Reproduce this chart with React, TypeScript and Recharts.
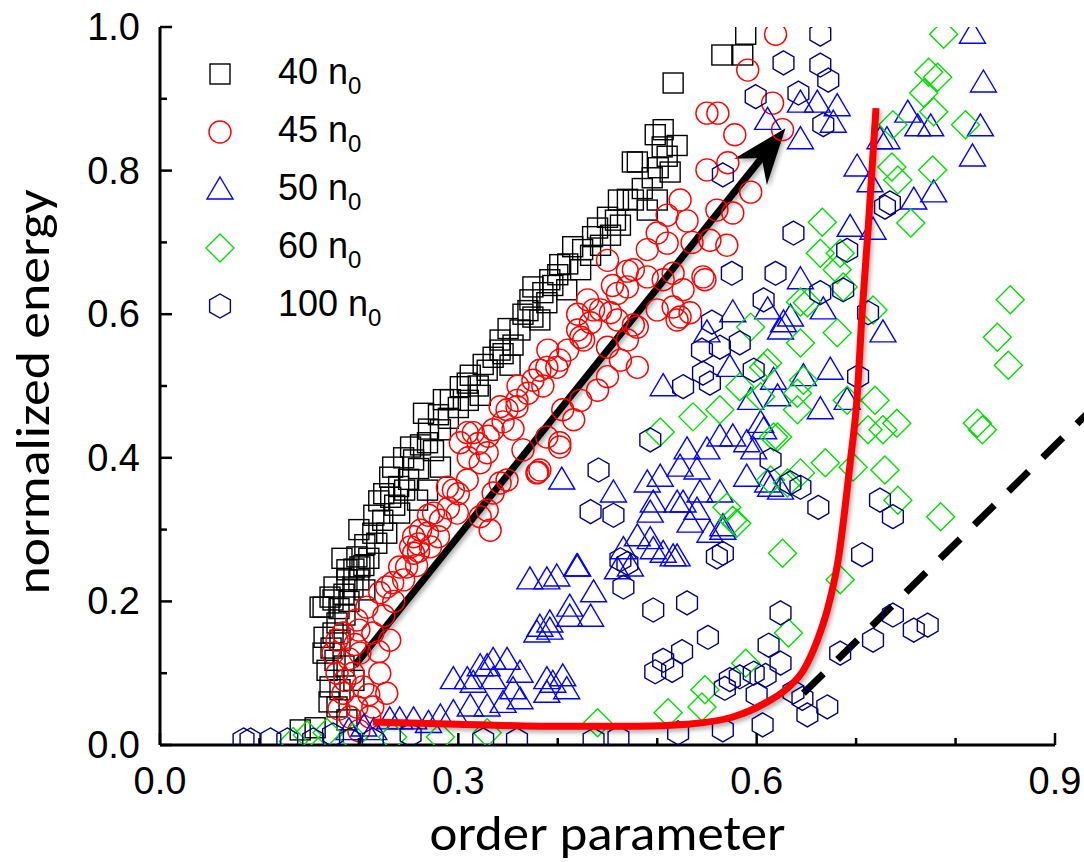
import React from "react";
import { ScatterChart, Scatter, XAxis, YAxis, ReferenceLine, Legend } from "recharts";

type Pt = [number, number];

const xTicks = [0, 0.1, 0.2, 0.3, 0.4, 0.5, 0.6, 0.7, 0.8, 0.9];
const xLabels = ["0.0", "", "", "0.3", "", "", "0.6", "", "", "0.9"];
const yTicks = [0, 0.1, 0.2, 0.3, 0.4, 0.5, 0.6, 0.7, 0.8, 0.9, 1.0];
const yLabels = ["0.0", "", "0.2", "", "0.4", "", "0.6", "", "0.8", "", "1.0"];

const seriesNames = ["40", "45", "50", "60", "100"];

// 40 n0 (black squares)
const n40: Pt[] = [
  [0.589, 0.99], [0.565, 0.961], [0.586, 0.961], [0.516, 0.922], [0.506, 0.857], [0.505, 0.833], [0.475, 0.812],
  [0.48, 0.812], [0.501, 0.804], [0.513, 0.798], [0.498, 0.85], [0.461, 0.759], [0.476, 0.759], [0.5, 0.759],
  [0.49, 0.745], [0.463, 0.724], [0.458, 0.731], [0.453, 0.71], [0.435, 0.708], [0.415, 0.694], [0.443, 0.696],
  [0.433, 0.682], [0.423, 0.662], [0.402, 0.669], [0.392, 0.648], [0.375, 0.638], [0.409, 0.634], [0.389, 0.616],
  [0.372, 0.62], [0.382, 0.592], [0.375, 0.596], [0.362, 0.578], [0.355, 0.557], [0.342, 0.564], [0.342, 0.55],
  [0.352, 0.529], [0.329, 0.522], [0.312, 0.515], [0.309, 0.504], [0.302, 0.499], [0.322, 0.487], [0.285, 0.481],
  [0.292, 0.481], [0.265, 0.462], [0.282, 0.439], [0.262, 0.418], [0.269, 0.421], [0.252, 0.415], [0.255, 0.397],
  [0.282, 0.387], [0.234, 0.387], [0.231, 0.373], [0.269, 0.355], [0.246, 0.355], [0.259, 0.341], [0.236, 0.334],
  [0.241, 0.323], [0.224, 0.313], [0.228, 0.295], [0.214, 0.295], [0.218, 0.281], [0.206, 0.279], [0.198, 0.262],
  [0.201, 0.248], [0.188, 0.244], [0.188, 0.23], [0.194, 0.22], [0.206, 0.216], [0.174, 0.202], [0.171, 0.206],
  [0.161, 0.192], [0.164, 0.192], [0.186, 0.181], [0.174, 0.156], [0.181, 0.146], [0.164, 0.128], [0.176, 0.118],
  [0.168, 0.104], [0.171, 0.081], [0.181, 0.077], [0.178, 0.053], [0.188, 0.035], [0.141, 0.021], [0.156, 0.024],
  [0.178, 0.17], [0.19, 0.2], [0.2, 0.23], [0.21, 0.26], [0.185, 0.11], [0.195, 0.09], [0.17, 0.06],
  [0.165, 0.15], [0.172, 0.135], [0.18, 0.19], [0.185, 0.21], [0.175, 0.22], [0.195, 0.245], [0.205, 0.25],
  [0.183, 0.26], [0.2, 0.3], [0.215, 0.32], [0.225, 0.35], [0.22, 0.34], [0.232, 0.345], [0.24, 0.36],
  [0.25, 0.37], [0.245, 0.4], [0.26, 0.385], [0.275, 0.41], [0.27, 0.44], [0.29, 0.455], [0.3, 0.47],
  [0.28, 0.46], [0.31, 0.48], [0.32, 0.5], [0.325, 0.53], [0.335, 0.54], [0.345, 0.545], [0.35, 0.58],
  [0.365, 0.6], [0.37, 0.605], [0.385, 0.63], [0.395, 0.64], [0.4, 0.655], [0.41, 0.67], [0.425, 0.69],
  [0.44, 0.72], [0.45, 0.735], [0.47, 0.76], [0.485, 0.775], [0.495, 0.79], [0.52, 0.835], [0.51, 0.82],
];

// 45 n0 (red circles)
const n45: Pt[] = [
  [0.619, 0.99], [0.591, 0.94], [0.55, 0.88], [0.561, 0.88], [0.578, 0.85], [0.626, 0.857], [0.616, 0.894],
  [0.571, 0.811], [0.55, 0.801], [0.594, 0.77], [0.576, 0.741], [0.56, 0.745], [0.57, 0.696], [0.553, 0.703],
  [0.546, 0.652], [0.516, 0.657], [0.523, 0.759], [0.51, 0.738], [0.5, 0.713], [0.51, 0.699], [0.45, 0.675],
  [0.476, 0.662], [0.49, 0.652], [0.506, 0.648], [0.47, 0.638], [0.46, 0.629], [0.526, 0.634], [0.548, 0.648],
  [0.516, 0.61], [0.523, 0.596], [0.533, 0.602], [0.52, 0.592], [0.5, 0.606], [0.443, 0.606], [0.453, 0.602],
  [0.436, 0.606], [0.46, 0.592], [0.48, 0.582], [0.433, 0.588], [0.42, 0.578], [0.423, 0.568], [0.476, 0.585],
  [0.47, 0.564], [0.426, 0.564], [0.45, 0.554], [0.48, 0.526], [0.463, 0.536], [0.45, 0.513], [0.44, 0.494],
  [0.402, 0.536], [0.399, 0.526], [0.389, 0.526], [0.382, 0.522], [0.375, 0.508], [0.359, 0.48], [0.359, 0.471],
  [0.349, 0.467], [0.342, 0.471], [0.423, 0.48], [0.416, 0.453], [0.405, 0.467], [0.389, 0.429], [0.402, 0.415],
  [0.38, 0.38], [0.365, 0.411], [0.335, 0.439], [0.315, 0.435], [0.309, 0.435], [0.302, 0.421], [0.329, 0.407],
  [0.342, 0.365], [0.329, 0.327], [0.332, 0.299], [0.382, 0.383], [0.402, 0.421], [0.379, 0.379], [0.349, 0.369],
  [0.335, 0.351], [0.322, 0.393], [0.309, 0.369], [0.289, 0.359], [0.295, 0.355], [0.322, 0.318], [0.275, 0.323],
  [0.299, 0.323], [0.282, 0.313], [0.269, 0.295], [0.262, 0.299], [0.272, 0.276], [0.252, 0.276], [0.255, 0.267],
  [0.248, 0.248], [0.241, 0.248], [0.234, 0.226], [0.228, 0.22], [0.221, 0.212], [0.208, 0.192], [0.198, 0.174],
  [0.184, 0.156], [0.178, 0.146], [0.174, 0.128], [0.178, 0.1], [0.184, 0.072], [0.198, 0.053], [0.214, 0.053],
  [0.228, 0.072], [0.221, 0.1], [0.201, 0.128], [0.214, 0.156], [0.231, 0.146], [0.194, 0.1], [0.204, 0.081],
  [0.211, 0.039], [0.191, 0.039],
  [0.186, 0.09], [0.19, 0.12], [0.196, 0.14], [0.2, 0.16], [0.21, 0.07], [0.22, 0.13], [0.225, 0.18],
  [0.18, 0.05], [0.2, 0.02], [0.235, 0.2], [0.245, 0.23], [0.258, 0.25], [0.26, 0.28], [0.28, 0.29],
  [0.29, 0.33], [0.3, 0.35], [0.31, 0.4], [0.32, 0.42], [0.33, 0.43], [0.345, 0.45], [0.355, 0.44],
  [0.36, 0.5], [0.37, 0.49], [0.385, 0.5], [0.39, 0.55], [0.41, 0.55], [0.42, 0.6], [0.43, 0.62],
  [0.455, 0.64], [0.47, 0.66], [0.49, 0.69], [0.535, 0.7], [0.53, 0.73], [0.26, 0.27], [0.255, 0.29], [0.27, 0.32],
];

// 50 n0 (blue triangles)
const n50: Pt[] = [
  [0.19, 0.02], [0.205, 0.025], [0.215, 0.02], [0.231, 0.035], [0.241, 0.035], [0.255, 0.035], [0.27, 0.03],
  [0.282, 0.039], [0.295, 0.045], [0.312, 0.053], [0.329, 0.053], [0.345, 0.058], [0.362, 0.063], [0.389, 0.072],
  [0.409, 0.077], [0.355, 0.077],
  [0.295, 0.091], [0.309, 0.091], [0.315, 0.086], [0.322, 0.109], [0.329, 0.109], [0.335, 0.091], [0.335, 0.118],
  [0.349, 0.118], [0.362, 0.1], [0.389, 0.091], [0.395, 0.086], [0.405, 0.095], [0.379, 0.156], [0.392, 0.17],
  [0.412, 0.178], [0.392, 0.16], [0.382, 0.164], [0.412, 0.192], [0.433, 0.178], [0.436, 0.212], [0.372, 0.23],
  [0.389, 0.23], [0.399, 0.234], [0.42, 0.248],
  [0.466, 0.272], [0.48, 0.29], [0.493, 0.286], [0.506, 0.267], [0.52, 0.262], [0.473, 0.248], [0.46, 0.244],
  [0.493, 0.323], [0.533, 0.309], [0.553, 0.295], [0.566, 0.299], [0.54, 0.327], [0.52, 0.337], [0.404, 0.369],
  [0.456, 0.351], [0.506, 0.499], [0.576, 0.602], [0.55, 0.574], [0.624, 0.578], [0.634, 0.596], [0.611, 0.606],
  [0.573, 0.526], [0.617, 0.508], [0.594, 0.48], [0.53, 0.411], [0.55, 0.411], [0.563, 0.429], [0.576, 0.429],
  [0.59, 0.421], [0.604, 0.448], [0.523, 0.387], [0.54, 0.383], [0.503, 0.373], [0.49, 0.365], [0.496, 0.337],
  [0.526, 0.337], [0.543, 0.351], [0.563, 0.351], [0.566, 0.304], [0.59, 0.373], [0.611, 0.365], [0.624, 0.355],
  [0.496, 0.272], [0.516, 0.262], [0.419, 0.248],
  [0.644, 0.648], [0.627, 0.588], [0.667, 0.606], [0.674, 0.522], [0.664, 0.467], [0.647, 0.513], [0.621, 0.485],
  [0.607, 0.439], [0.614, 0.359], [0.727, 0.574], [0.691, 0.48], [0.597, 0.411],
  [0.611, 0.87], [0.644, 0.894], [0.661, 0.894], [0.681, 0.889], [0.677, 0.866], [0.644, 0.843], [0.724, 0.843],
  [0.731, 0.843], [0.752, 0.88], [0.762, 0.861], [0.775, 0.861], [0.828, 0.922], [0.825, 0.861], [0.817, 0.819],
  [0.701, 0.805], [0.714, 0.783], [0.758, 0.759], [0.778, 0.769], [0.694, 0.721], [0.717, 0.717], [0.817, 0.99],
];

// 60 n0 (green diamonds)
const n60: Pt[] = [
  [0.134, 0.005], [0.148, 0.014], [0.168, 0.017], [0.194, 0.01], [0.234, 0.011], [0.282, 0.011], [0.329, 0.017],
  [0.44, 0.031], [0.511, 0.045], [0.545, 0.053], [0.548, 0.077], [0.589, 0.114], [0.632, 0.156], [0.626, 0.267],
  [0.576, 0.313], [0.57, 0.331], [0.58, 0.309],
  [0.536, 0.457], [0.503, 0.436], [0.563, 0.467], [0.583, 0.499], [0.604, 0.485], [0.611, 0.532], [0.594, 0.582],
  [0.621, 0.429], [0.614, 0.369], [0.664, 0.685], [0.681, 0.662], [0.687, 0.638], [0.651, 0.616], [0.681, 0.574],
  [0.644, 0.56], [0.717, 0.606], [0.607, 0.526], [0.647, 0.508], [0.641, 0.49], [0.641, 0.467], [0.617, 0.429],
  [0.691, 0.48], [0.719, 0.48], [0.712, 0.439], [0.727, 0.439], [0.741, 0.448], [0.669, 0.393], [0.697, 0.387],
  [0.729, 0.383], [0.742, 0.341], [0.644, 0.379], [0.631, 0.365], [0.785, 0.318], [0.684, 0.23], [0.644, 0.617],
  [0.666, 0.728],
  [0.855, 0.62], [0.842, 0.568], [0.853, 0.529], [0.822, 0.448], [0.827, 0.439],
  [0.788, 0.99], [0.773, 0.937], [0.782, 0.93], [0.768, 0.908], [0.778, 0.882], [0.737, 0.864], [0.81, 0.864],
  [0.736, 0.805], [0.742, 0.787], [0.777, 0.801], [0.755, 0.727], [0.684, 0.685],
];

// 100 n0 (navy hexagons)
const n100: Pt[] = [
  [0.084, 0.007], [0.091, 0.007], [0.111, 0.007], [0.128, 0.007], [0.154, 0.007], [0.174, 0.014], [0.191, 0.007],
  [0.214, 0.007], [0.252, 0.014], [0.325, 0.007], [0.359, 0.007], [0.436, 0.007], [0.461, 0.01], [0.521, 0.017],
  [0.566, 0.021], [0.606, 0.028], [0.651, 0.042], [0.671, 0.053], [0.646, 0.065], [0.637, 0.074], [0.684, 0.128],
  [0.717, 0.146], [0.737, 0.181], [0.758, 0.16], [0.772, 0.167],
  [0.498, 0.102], [0.506, 0.118], [0.525, 0.13], [0.515, 0.104], [0.551, 0.15], [0.496, 0.188], [0.53, 0.198],
  [0.568, 0.079], [0.573, 0.091], [0.583, 0.095], [0.6, 0.07], [0.597, 0.1], [0.609, 0.097], [0.612, 0.139],
  [0.624, 0.114], [0.624, 0.184],
  [0.433, 0.325], [0.456, 0.32], [0.463, 0.258], [0.466, 0.22], [0.56, 0.262], [0.566, 0.267], [0.441, 0.383],
  [0.493, 0.425], [0.575, 0.657], [0.619, 0.657], [0.607, 0.62], [0.555, 0.589], [0.545, 0.55], [0.563, 0.554],
  [0.583, 0.56], [0.546, 0.518], [0.526, 0.499], [0.553, 0.504], [0.597, 0.522], [0.614, 0.397], [0.634, 0.365],
  [0.47, 0.253], [0.637, 0.713], [0.691, 0.689], [0.664, 0.63], [0.687, 0.634], [0.712, 0.602], [0.702, 0.513],
  [0.644, 0.359], [0.662, 0.331], [0.724, 0.341], [0.737, 0.318], [0.706, 0.265],
  [0.627, 0.95], [0.664, 0.947], [0.672, 0.926], [0.599, 0.903], [0.642, 0.908], [0.667, 0.864], [0.566, 0.794],
  [0.729, 0.749], [0.734, 0.755], [0.664, 0.99],
];

// guide lines
const redCurve: Pt[] = [
  [0.214, 0.032], [0.3, 0.029], [0.4, 0.026], [0.48, 0.026], [0.53, 0.029], [0.576, 0.039], [0.608, 0.058],
  [0.63, 0.078], [0.647, 0.104], [0.661, 0.146], [0.671, 0.188], [0.682, 0.258], [0.694, 0.393], [0.701, 0.485],
  [0.706, 0.602], [0.712, 0.717], [0.72, 0.887],
];
const arrowFrom: Pt = [0.196, 0.111];
const arrowTo: Pt = [0.629, 0.859];
const dashFrom: Pt = [0.647, 0.072];
const dashTo: Pt = [0.935, 0.465];

const toObj = (pts: Pt[]) => pts.map(([x, y]) => ({ x, y }));

const series = [
  { data: n40, kind: "square", color: "#000000" },
  { data: n45, kind: "circle", color: "#ff0000" },
  { data: n50, kind: "triangle", color: "#0000ff" },
  { data: n60, kind: "diamond", color: "#00e000" },
  { data: n100, kind: "hexagon", color: "#000080" },
];

const tickFont = "'Liberation Sans', Arial, sans-serif";
const titleFont = "Carlito, 'Open Sans', sans-serif";

function drawMarker(kind: string, cx: number, cy: number, color: string) {
  const sw = 1.4;
  if (kind === "square") return <rect x={cx - 10} y={cy - 10} width={20} height={20} fill="none" stroke={color} strokeWidth={sw} />;
  if (kind === "circle") return <circle cx={cx} cy={cy} r={11} fill="none" stroke={color} strokeWidth={sw} />;
  if (kind === "triangle")
    return <polygon points={`${cx},${cy - 13} ${cx + 13},${cy + 9} ${cx - 13},${cy + 9}`} fill="none" stroke={color} strokeWidth={sw} />;
  if (kind === "diamond")
    return <polygon points={`${cx},${cy - 14} ${cx + 14},${cy} ${cx},${cy + 14} ${cx - 14},${cy}`} fill="none" stroke={color} strokeWidth={sw} />;
  const pts = [-90, -30, 30, 90, 150, 210]
    .map((a) => `${cx + 12 * Math.cos((a * Math.PI) / 180)},${cy + 12 * Math.sin((a * Math.PI) / 180)}`)
    .join(" ");
  return <polygon points={pts} fill="none" stroke={color} strokeWidth={sw} />;
}

const markerShape = (kind: string, color: string) => (p: any) =>
  p.cx == null ? <g /> : drawMarker(kind, p.cx, p.cy, color);

const tickLen = (major: boolean) => (major ? 12 : 7);

const BottomTick = (p: any) => {
  const lab = xLabels[p.index];
  return (
    <g>
      <line x1={p.x} y1={p.y} x2={p.x} y2={p.y - tickLen(lab !== "")} stroke="#000" strokeWidth={2.5} />
      {lab && (
        <text x={p.x} y={p.y + 49} textAnchor="middle" fontFamily={tickFont} fontSize={38} fill="#000">
          {lab}
        </text>
      )}
    </g>
  );
};
const TopTick = (p: any) => (
  <line x1={p.x} y1={p.y} x2={p.x} y2={p.y + tickLen(xLabels[p.index] !== "")} stroke="#000" strokeWidth={2.5} />
);
const LeftTick = (p: any) => {
  const lab = yLabels[p.index];
  return (
    <g>
      <line x1={p.x} y1={p.y} x2={p.x + tickLen(lab !== "")} y2={p.y} stroke="#000" strokeWidth={2.5} />
      {lab && (
        <text x={p.x - 20} y={p.y + 13} textAnchor="end" fontFamily={tickFont} fontSize={38} fill="#000">
          {lab}
        </text>
      )}
    </g>
  );
};
const RightTick = (p: any) => (
  <line x1={p.x} y1={p.y} x2={p.x - tickLen(yLabels[p.index] !== "")} y2={p.y} stroke="#000" strokeWidth={2.5} />
);

const Arrow = (p: any) => {
  const { x1, y1, x2, y2 } = p;
  const a = Math.atan2(y2 - y1, x2 - x1);
  const ux = Math.cos(a), uy = Math.sin(a);
  const L = 56, W = 21, notch = 38;
  const bx = x2 - ux * L, by = y2 - uy * L;
  const nx = x2 - ux * notch, ny = y2 - uy * notch;
  const head = `${x2},${y2} ${bx - uy * W},${by + ux * W} ${nx},${ny} ${bx + uy * W},${by - ux * W}`;
  return (
    <g style={{ filter: "drop-shadow(2px 3px 2px rgba(0,0,0,0.3))" }}>
      <line x1={x1} y1={y1} x2={nx + ux * 4} y2={ny + uy * 4} stroke="#000" strokeWidth={7} />
      <polygon points={head} fill="#000" />
    </g>
  );
};

const renderLegend = () => (
  <div style={{ fontFamily: tickFont, fontSize: 36, color: "#000", lineHeight: "58px" }}>
    {series.map((s, i) => (
      <div key={i} style={{ display: "flex", alignItems: "center", height: 58 }}>
        <svg width={32} height={32} style={{ overflow: "visible" }}>
          {drawMarker(s.kind, 16, 16, s.color)}
        </svg>
        <span style={{ marginLeft: 42, whiteSpace: "nowrap" }}>
          {seriesNames[i]} n
          <span style={{ fontSize: 24, position: "relative", top: 10 }}>0</span>
        </span>
      </div>
    ))}
  </div>
);

export default function App() {
  return (
    <div style={{ position: "absolute", left: 0, top: 0, width: 1084, height: 862, background: "#fff" }}>
      <ScatterChart width={1084} height={862} margin={{ top: 27, right: 29, bottom: 0, left: 0 }}>
        <XAxis
          xAxisId={0}
          type="number"
          dataKey="x"
          domain={[0, 0.9]}
          ticks={xTicks}
          interval={0}
          allowDataOverflow
          height={117}
          tickSize={0}
          tickMargin={0}
          tickLine={false}
          axisLine={{ stroke: "#000", strokeWidth: 3 }}
          tick={<BottomTick />}
          label={(lp: any) => {
            const vb = lp?.viewBox ?? { x: 160, y: 745, width: 895 };
            return (
              <text
                x={vb.x + vb.width / 2}
                y={vb.y + 105}
                textAnchor="middle"
                fontFamily={titleFont}
                fontSize={49}
                textLength={356}
                lengthAdjust="spacingAndGlyphs"
                fill="#000"
              >
                order parameter
              </text>
            );
          }}
        />
        <XAxis
          xAxisId="top"
          orientation="top"
          type="number"
          dataKey="x"
          domain={[0, 0.9]}
          ticks={xTicks}
          interval={0}
          allowDataOverflow
          height={0}
          tickSize={0}
          tickMargin={0}
          tickLine={false}
          axisLine={{ stroke: "#000", strokeWidth: 3 }}
          tick={<TopTick />}
        />
        <YAxis
          yAxisId={0}
          type="number"
          dataKey="y"
          domain={[0, 1]}
          ticks={yTicks}
          interval={0}
          allowDataOverflow
          width={160}
          tickSize={0}
          tickMargin={0}
          tickLine={false}
          axisLine={{ stroke: "#000", strokeWidth: 3 }}
          tick={<LeftTick />}
          label={(lp: any) => {
            const vb = lp?.viewBox ?? { x: 0, y: 27, height: 718 };
            const cy = vb.y + vb.height / 2 + 6;
            return (
              <text
                x={49}
                y={cy}
                transform={`rotate(-90 49 ${cy})`}
                textAnchor="middle"
                fontFamily={titleFont}
                fontSize={48}
                textLength={405}
                lengthAdjust="spacingAndGlyphs"
                fill="#000"
              >
                normalized energy
              </text>
            );
          }}
        />
        <YAxis
          yAxisId="right"
          orientation="right"
          type="number"
          dataKey="y"
          domain={[0, 1]}
          ticks={yTicks}
          interval={0}
          allowDataOverflow
          width={0}
          tickSize={0}
          tickMargin={0}
          tickLine={false}
          axisLine={{ stroke: "#000", strokeWidth: 3 }}
          tick={<RightTick />}
        />
        {series.map((s, i) => (
          <Scatter
            key={i}
            name={seriesNames[i]}
            data={toObj(s.data)}
            fill={s.color}
            shape={markerShape(s.kind, s.color)}
            isAnimationActive={false}
          />
        ))}
        <Scatter
          data={toObj(redCurve)}
          fill="#ff0000"
          line={{ stroke: "#ff0000", strokeWidth: 7, style: { filter: "drop-shadow(2px 3px 2px rgba(0,0,0,0.3))" } }}
          lineJointType="monotoneX"
          shape={() => <g />}
          legendType="none"
          isAnimationActive={false}
        />
        <ReferenceLine
          segment={[{ x: arrowFrom[0], y: arrowFrom[1] }, { x: arrowTo[0], y: arrowTo[1] }]}
          ifOverflow="visible"
          shape={Arrow}
        />
        <ReferenceLine
          segment={[{ x: dashFrom[0], y: dashFrom[1] }, { x: dashTo[0], y: dashTo[1] }]}
          ifOverflow="visible"
          stroke="#000"
          strokeWidth={7}
          strokeDasharray="28 20"
        />
        <Legend
          layout="vertical"
          align="center"
          verticalAlign="middle"
          content={renderLegend}
          wrapperStyle={{ left: 204, top: 45, width: 300, height: 300 }}
        />
      </ScatterChart>
    </div>
  );
}
